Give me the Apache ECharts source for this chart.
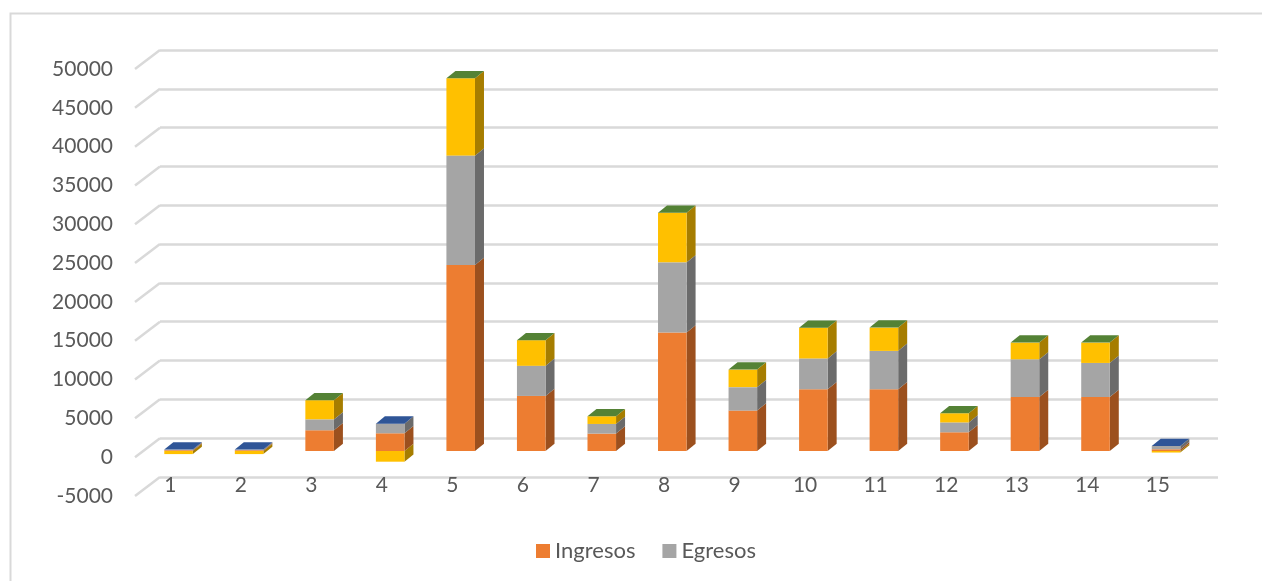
<!DOCTYPE html>
<html>
<head>
<meta charset="utf-8">
<style>html,body{margin:0;padding:0;background:#fff;overflow:hidden}#chart{width:1262px;height:581px}</style>
<script src="https://cdn.jsdelivr.net/npm/echarts@6/dist/echarts.min.js"></script>
</head>
<body>
<div id="chart"></div>
<script>
// Stacked columns per period, drawn with an oblique 3D look.
var periodos = ['1','2','3','4','5','6','7','8','9','10','11','12','13','14','15'];
var ingresos = [100,100,2670,2280,23950,7090,2240,15260,5200,7950,7950,2410,6960,6960,220];
var egresos  = [80,80,1380,1240,14080,3870,1240,9020,3000,3940,4940,1240,4810,4380,420];
var saldo    = [-400,-400,2490,-1380,9970,3310,990,6390,2280,3990,3000,1210,2190,2620,-200];
var marcas   = [-5000,0,5000,10000,15000,20000,25000,30000,35000,40000,45000,50000];

var GRID_GRIS = '#d9d9d9';
var TEXTO = '#595959';
var FUENTE = 'Lato, "Open Sans", sans-serif';

// Oblique projection: column front plane relative to the axis plane, and column depth.
var PLANO = {dx: 8.3, dy: -6.2};
var FONDO = {dx: 9, dy: -7.3};
var MURO = {dx: 25, dy: -19};
var ANCHO_COL = 0.405;

function rangos() {
  var capas = {ing: [], egr: [], sal: [], tapa: []};
  periodos.forEach(function (p, i) {
    var a = ingresos[i], b = a + egresos[i], s = saldo[i];
    capas.ing.push([i, 0, a]);
    capas.egr.push([i, a, b]);
    if (s >= 0) {
      capas.sal.push([i, b, b + s]);
      capas.tapa.push([i, b + s, 1]);
    } else {
      capas.sal.push([i, s, 0]);
      capas.tapa.push([i, b, 0]);
    }
  });
  return capas;
}

function dibujaCapa(colorFrente, colorLado) {
  return function (params, api) {
    var i = api.value(0);
    var base = api.coord([i, api.value(1)]);
    var cima = api.coord([i, api.value(2)]);
    var w = api.size([1, 0])[0] * ANCHO_COL;
    var x0 = base[0] + PLANO.dx - w / 2;
    var x1 = x0 + w;
    var yb = base[1] + PLANO.dy;
    var yt = cima[1] + PLANO.dy;
    return {
      type: 'group',
      children: [
        {type: 'polygon', shape: {points: [[x1, yt], [x1 + FONDO.dx, yt + FONDO.dy], [x1 + FONDO.dx, yb + FONDO.dy], [x1, yb]]}, style: {fill: colorLado}},
        {type: 'rect', shape: {x: x0, y: yt, width: w, height: yb - yt}, style: {fill: colorFrente}}
      ]
    };
  };
}

function dibujaTapa(params, api) {
  var i = api.value(0);
  var cima = api.coord([i, api.value(1)]);
  var w = api.size([1, 0])[0] * ANCHO_COL;
  var x0 = cima[0] + PLANO.dx - w / 2;
  var x1 = x0 + w;
  var y = cima[1] + PLANO.dy;
  return {
    type: 'polygon',
    shape: {points: [[x0, y], [x1, y], [x1 + FONDO.dx, y + FONDO.dy], [x0 + FONDO.dx, y + FONDO.dy]]},
    style: {fill: api.value(2) ? '#548235' : '#2f5597'}
  };
}

function dibujaDiagonal(params, api) {
  var p = api.coord([0, api.value(0)]);
  var x = params.coordSys.x;
  return {
    type: 'line',
    shape: {x1: x, y1: p[1], x2: x + MURO.dx, y2: p[1] + MURO.dy},
    style: {stroke: GRID_GRIS, lineWidth: 2.5}
  };
}

var capas = rangos();

function capa(nombre, datos, frente, lado) {
  return {
    name: nombre,
    type: 'custom',
    xAxisIndex: 0,
    yAxisIndex: 0,
    itemStyle: {color: frente},
    encode: {x: 0, y: [1, 2]},
    renderItem: dibujaCapa(frente, lado),
    data: datos,
    z: 5
  };
}

var chart = echarts.init(document.getElementById('chart'), null, {renderer: 'canvas'});
chart.setOption({
  animation: false,
  backgroundColor: '#fff',
  textStyle: {fontFamily: FUENTE},
  graphic: [{
    type: 'polyline',
    silent: true,
    shape: {points: [[10.5, 590], [10.5, 13.5], [1270, 13.5]]},
    style: {stroke: GRID_GRIS, lineWidth: 2, fill: null}
  }],
  legend: {
    data: ['Ingresos', 'Egresos'],
    left: 531,
    top: 535,
    icon: 'rect',
    itemWidth: 14,
    itemHeight: 14,
    itemGap: 27,
    selectedMode: false,
    textStyle: {color: TEXTO, fontSize: 22, fontFamily: FUENTE}
  },
  grid: [
    {left: 135, width: 1058, top: 69, height: 427, containLabel: false},
    {left: 160, width: 1058, top: 50, height: 427, containLabel: false}
  ],
  xAxis: [
    {
      gridIndex: 0, type: 'category', data: periodos,
      axisLine: {show: false, onZero: false}, axisTick: {show: false},
      axisLabel: {inside: true, margin: 0, color: TEXTO, fontSize: 21, fontFamily: FUENTE}
    },
    {
      gridIndex: 1, type: 'category', data: periodos,
      axisLine: {show: false, onZero: false}, axisTick: {show: false}, axisLabel: {show: false}
    }
  ],
  yAxis: [
    {
      gridIndex: 0, type: 'value', min: -5000, max: 50000, interval: 5000,
      axisLine: {show: false}, axisTick: {show: false}, splitLine: {show: false},
      axisLabel: {
        margin: 22, color: TEXTO, fontSize: 21, fontFamily: FUENTE, padding: [0, 0, 3, 0],
        formatter: function (v) { return String(v); }
      }
    },
    {
      gridIndex: 1, type: 'value', min: -5000, max: 50000, interval: 5000,
      axisLine: {show: false}, axisTick: {show: false}, axisLabel: {show: false},
      splitLine: {show: true, lineStyle: {color: GRID_GRIS, width: 2.5}}
    }
  ],
  series: [
    {
      type: 'custom', name: 'piso', xAxisIndex: 0, yAxisIndex: 0, silent: true,
      encode: {y: 0}, renderItem: dibujaDiagonal, data: marcas.map(function (m) { return [m]; }), z: 1
    },
    capa('Saldo', capas.sal, '#ffc000', '#a67d00'),
    capa('Ingresos', capas.ing, '#ed7d31', '#9c501e'),
    capa('Egresos', capas.egr, '#a5a5a5', '#6b6b6b'),
    {
      type: 'custom', name: 'tapa', xAxisIndex: 0, yAxisIndex: 0,
      encode: {x: 0, y: 1}, renderItem: dibujaTapa, data: capas.tapa, z: 6
    }
  ]
});
</script>
</body>
</html>
